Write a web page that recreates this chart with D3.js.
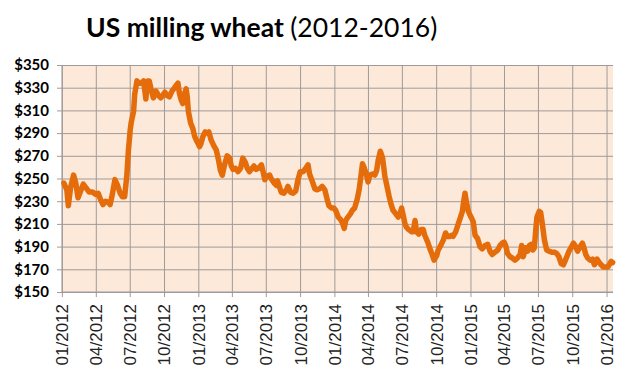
<!DOCTYPE html>
<html>
<head>
<meta charset="utf-8">
<script src="https://cdn.jsdelivr.net/npm/d3@7"></script>
<style>
  body { margin: 0; background: #fff; }
</style>
</head>
<body>
<div id="chart"></div>
<script>
// weekly-ish readings of the price line
var dates = [
  "2012-01-05","2012-01-13","2012-01-17","2012-01-23","2012-01-31","2012-02-06","2012-02-12","2012-02-19","2012-02-26","2012-03-04",
  "2012-03-13","2012-03-22","2012-03-31","2012-04-06","2012-04-13","2012-04-19","2012-04-26","2012-05-03","2012-05-08","2012-05-14",
  "2012-05-21","2012-05-28","2012-06-04","2012-06-10","2012-06-16","2012-06-22","2012-06-26","2012-07-01","2012-07-04","2012-07-10",
  "2012-07-13","2012-07-19","2012-07-25","2012-07-31","2012-08-06","2012-08-12","2012-08-16","2012-08-21","2012-08-25","2012-09-01",
  "2012-09-08","2012-09-15","2012-09-21","2012-09-28","2012-10-02","2012-10-08","2012-10-14","2012-10-21","2012-10-26","2012-11-01",
  "2012-11-06","2012-11-10","2012-11-15","2012-11-19","2012-11-24","2012-11-28","2012-12-01","2012-12-04","2012-12-10","2012-12-16",
  "2012-12-21","2012-12-25","2012-12-30","2013-01-03","2013-01-07","2013-01-12","2013-01-18","2013-01-24","2013-01-28","2013-02-03",
  "2013-02-10","2013-02-17","2013-02-23","2013-02-28","2013-03-05","2013-03-11","2013-03-18","2013-03-25","2013-03-29","2013-04-03",
  "2013-04-09","2013-04-16","2013-04-23","2013-04-29","2013-05-06","2013-05-11","2013-05-17","2013-05-24","2013-05-29","2013-06-04",
  "2013-06-10","2013-06-18","2013-06-23","2013-06-27","2013-07-03","2013-07-10","2013-07-14","2013-07-22","2013-07-28","2013-07-31",
  "2013-08-04","2013-08-10","2013-08-17","2013-08-24","2013-08-28","2013-09-04","2013-09-11","2013-09-18","2013-09-24","2013-09-30",
  "2013-10-08","2013-10-15","2013-10-21","2013-10-25","2013-11-02","2013-11-08","2013-11-14","2013-11-21","2013-11-28","2013-12-05",
  "2013-12-11","2013-12-16","2013-12-23","2013-12-29","2014-01-03","2014-01-10","2014-01-16","2014-01-21","2014-01-26","2014-01-30",
  "2014-02-05","2014-02-12","2014-02-17","2014-02-23","2014-03-02","2014-03-07","2014-03-11","2014-03-16","2014-03-20","2014-03-27",
  "2014-03-31","2014-04-05","2014-04-12","2014-04-18","2014-04-23","2014-04-27","2014-05-03","2014-05-09","2014-05-15","2014-05-19",
  "2014-05-26","2014-05-31","2014-06-06","2014-06-13","2014-06-20","2014-06-24","2014-06-29","2014-07-03","2014-07-08","2014-07-12",
  "2014-07-18","2014-07-26","2014-07-30","2014-08-04","2014-08-08","2014-08-14","2014-08-20","2014-08-26","2014-08-30","2014-09-07",
  "2014-09-13","2014-09-19","2014-09-24","2014-10-01","2014-10-05","2014-10-12","2014-10-19","2014-10-25","2014-10-30","2014-11-06",
  "2014-11-10","2014-11-14","2014-11-21","2014-11-28","2014-12-04","2014-12-09","2014-12-12","2014-12-16","2014-12-20","2014-12-25",
  "2015-01-01","2015-01-07","2015-01-12","2015-01-19","2015-01-25","2015-01-31","2015-02-08","2015-02-15","2015-02-21","2015-02-27",
  "2015-03-06","2015-03-14","2015-03-20","2015-03-26","2015-03-31","2015-04-04","2015-04-09","2015-04-16","2015-04-22","2015-04-29",
  "2015-05-06","2015-05-13","2015-05-17","2015-05-21","2015-05-28","2015-06-02","2015-06-07","2015-06-11","2015-06-16","2015-06-20",
  "2015-06-24","2015-06-27","2015-07-03","2015-07-07","2015-07-11","2015-07-17","2015-07-23","2015-07-29","2015-08-06","2015-08-13",
  "2015-08-19","2015-08-25","2015-08-31","2015-09-06","2015-09-10","2015-09-15","2015-09-21","2015-09-28","2015-10-03","2015-10-07",
  "2015-10-14","2015-10-21","2015-10-27","2015-11-01","2015-11-05","2015-11-10","2015-11-17","2015-11-23","2015-11-28","2015-12-05",
  "2015-12-11","2015-12-16","2015-12-22","2015-12-29","2016-01-03","2016-01-07","2016-01-12","2016-01-16"
];

var prices = [
  246,240,226,242,253,246,233,239,245,242,
  238,238,236,237,231,227,230,229,227,236,
  249,244,237,234,234,253,274,293,300,309,
  324,336,334,334,336,320,336,336,330,321,
  327,323,321,324,326,323,322,327,329,332,
  334,325,319,316,325,329,322,309,299,294,
  287,284,281,278,281,287,291,290,291,284,
  279,275,266,257,253,262,270,268,261,258,
  259,256,259,268,264,259,256,259,261,258,
  259,262,255,249,252,253,250,246,244,248,
  244,238,237,240,243,238,237,239,249,256,
  256,259,262,254,247,241,240,241,243,240,
  232,226,224,224,222,216,214,211,206,213,
  216,219,222,224,232,240,250,263,260,253,
  247,253,254,253,257,266,274,268,252,246,
  235,228,222,219,216,218,224,218,210,207,
  205,203,203,213,203,201,205,205,200,194,
  188,183,178,182,187,191,196,202,199,199,
  200,199,203,210,216,221,229,237,229,221,
  216,212,200,197,190,188,191,192,186,183,
  185,187,191,193,194,191,184,181,180,178,
  180,183,191,181,189,186,191,192,187,189,
  205,216,221,220,211,196,187,186,185,185,
  184,181,175,174,177,181,186,190,193,191,
  186,190,193,188,183,180,178,179,174,179,
  176,174,172,172,172,174,177,176
];

var yTicks = [150,170,190,210,230,250,270,290,310,330,350];
var xStart = "2011-12-31", xEnd = "2016-01-17";

var W = 630, H = 375;
var margin = {top: 65, right: 613, bottom: 292, left: 62};

var parse = d3.timeParse("%Y-%m-%d");
var data = dates.map(function(d, i){ return {date: parse(d), value: prices[i]}; });

var svg = d3.select("#chart").append("svg")
    .attr("width", W)
    .attr("height", H);

var x = d3.scaleTime()
    .domain([parse(xStart), parse(xEnd)])
    .range([margin.left, margin.right]);

var y = d3.scaleLinear()
    .domain([150, 350])
    .range([margin.bottom, margin.top]);

var xTicks = d3.timeMonth.range(parse("2012-01-01"), parse("2016-01-02"), 3);

// plot background
svg.append("rect")
    .attr("x", margin.left).attr("y", margin.top)
    .attr("width", margin.right - margin.left).attr("height", margin.bottom - margin.top)
    .attr("fill", "#fde9d9");

// horizontal grid + y labels
svg.append("g")
    .attr("transform", "translate(" + margin.left + ",0)")
    .call(d3.axisLeft(y).tickValues(yTicks).tickSize(-(margin.right - margin.left)).tickPadding(13)
      .tickFormat(function(d){ return "$" + d; }))
    .call(function(g){
      g.select(".domain").remove();
      g.selectAll(".tick line").attr("stroke", "#a09a98").attr("x1", -5);
      g.selectAll(".tick text")
        .attr("fill", "#000")
        .style("font", "bold 15px Lato");
    });

// vertical grid
svg.append("g")
    .selectAll("line")
    .data(xTicks)
    .enter().append("line")
      .attr("x1", function(d){ return x(d); })
      .attr("x2", function(d){ return x(d); })
      .attr("y1", margin.top)
      .attr("y2", margin.bottom + 5)
      .attr("stroke", "#a09a98");

// axis lines
svg.append("line")
    .attr("x1", margin.left).attr("x2", margin.left)
    .attr("y1", margin.top).attr("y2", margin.bottom)
    .attr("stroke", "#a09a98");
svg.append("line")
    .attr("x1", margin.left).attr("x2", margin.right)
    .attr("y1", margin.bottom).attr("y2", margin.bottom)
    .attr("stroke", "#a09a98");

// x labels, rotated
svg.append("g")
    .selectAll("text")
    .data(xTicks)
    .enter().append("text")
      .attr("transform", function(d){ return "translate(" + x(d) + "," + (margin.bottom + 12) + ")rotate(-90)"; })
      .attr("dy", "0.35em")
      .attr("text-anchor", "end")
      .style("font", "17px 'Liberation Sans'")
      .attr("fill", "#222")
      .text(d3.timeFormat("%m/%Y"));

// price line
svg.append("path")
    .datum(data)
    .attr("fill", "none")
    .attr("stroke", "#e46c0a")
    .attr("stroke-width", 5.5)
    .attr("stroke-linejoin", "round")
    .attr("stroke-linecap", "round")
    .attr("d", d3.line()
      .x(function(d){ return x(d.date); })
      .y(function(d){ return y(d.value); }));

// title
var title = svg.append("text")
    .attr("x", 86)
    .attr("y", 37)
    .style("font-family", "Lato")
    .style("font-size", "26.5px")
    .attr("fill", "#000");
title.append("tspan").style("font-weight", "bold").text("US milling wheat ");
title.append("tspan").text("(2012-2016)");
</script>
</body>
</html>
